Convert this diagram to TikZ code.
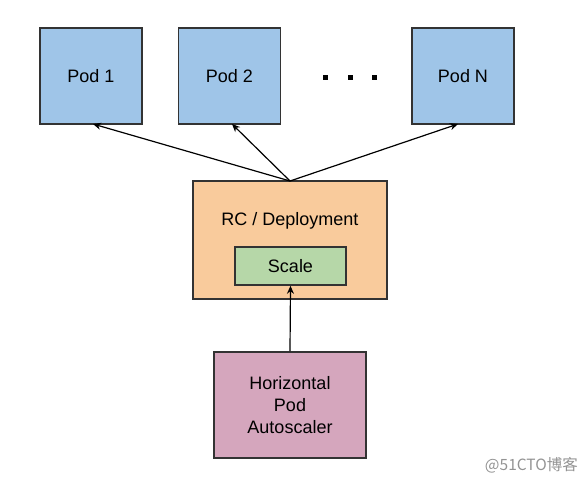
\documentclass[tikz,border=0pt]{standalone}
\usepackage{fontspec}
\setmainfont{Liberation Sans}
\newfontfamily\cjk{Noto Sans CJK SC}
\usetikzlibrary{arrows.meta}
\definecolor{podblue}{HTML}{9FC5E8}
\definecolor{rcorange}{HTML}{F9CB9C}
\definecolor{scalegreen}{HTML}{B6D7A8}
\definecolor{hpapink}{HTML}{D5A6BD}
\definecolor{edgegray}{HTML}{333333}
\tikzset{
  box/.style={draw=edgegray, line width=1.6pt, inner sep=0pt, align=center, font=\fontsize{18}{22}\selectfont},
  link/.style={line width=1.2pt, -{Stealth[length=8pt,width=7pt]}},
  dotsq/.style={fill=black, minimum size=5pt, inner sep=0pt}
}
\begin{document}
\begin{tikzpicture}[x=1pt,y=-1pt]
\useasboundingbox (0,0) rectangle (587,483);
\node[box, fill=podblue, minimum width=102pt, minimum height=96pt] (p1) at (91,76) {Pod 1};
\node[box, fill=podblue, minimum width=102pt, minimum height=96pt] (p2) at (229.5,76) {Pod 2};
\node[box, fill=podblue, minimum width=102pt, minimum height=96pt] (pn) at (463,76) {Pod N};
\node[dotsq] (d1) at (325,77) {};
\node[dotsq] (d2) at (350,77) {};
\node[dotsq] (d3) at (374,77) {};
\node[box, fill=rcorange, minimum width=194pt, minimum height=118pt] (rc) at (290,240) {};
\node[font=\fontsize{18}{22}\selectfont] (rct) at (290,221) {RC / Deployment};
\node[box, fill=scalegreen, minimum width=111pt, minimum height=38pt] (sc) at (290.5,266) {Scale};
\node[box, fill=hpapink, minimum width=152pt, minimum height=106pt] (hpa) at (290,405) {Horizontal\\Pod\\Autoscaler};
\coordinate (top) at (290,181);
\coordinate (t1) at (93,124);
\coordinate (t2) at (232,124);
\coordinate (tn) at (458,124);
\draw[link] (top) -- (t1);
\draw[link] (top) -- (t2);
\draw[link] (top) -- (tn);
\draw[link] (hpa.north) -- (sc.south);
\node[text=gray!85, font=\cjk\fontsize{15.5}{18}\selectfont, anchor=east, inner sep=0pt] (wm) at (578,465) {@51CTO博客};
\end{tikzpicture}
\end{document}
